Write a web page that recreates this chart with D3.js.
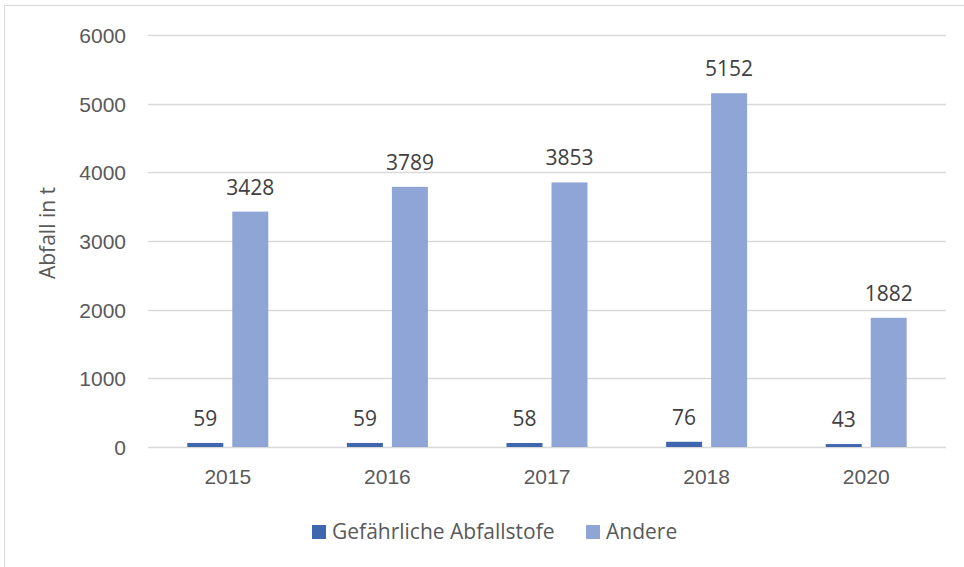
<!DOCTYPE html>
<html>
<head>
<meta charset="utf-8">
<script src="https://cdn.jsdelivr.net/npm/d3@7"></script>
<style>
    body { margin: 0; background: #fff; }
    svg { display: block; font-family: "Open Sans", "Noto Sans", sans-serif; }
    .axis text { fill: #595959; font-size: 21px; }
    .label { fill: #404040; font-size: 21px; }
</style>
</head>
<body>
<div id="chart"></div>
<script>
// Data
const years = ["2015", "2016", "2017", "2018", "2020"];
const seriesNames = ["Gefährliche Abfallstofe", "Andere"];
const hazardous = [59, 59, 58, 76, 43];
const other = [3428, 3789, 3853, 5152, 1882];
const yTicks = [0, 1000, 2000, 3000, 4000, 5000, 6000];

const colors = ["#4066b0", "#8fa5d5"];

const width = 964, height = 567;
const margin = { top: 35, right: 18, bottom: 120, left: 148 };

const svg = d3.select("#chart")
    .append("svg")
    .attr("width", width)
    .attr("height", height);

// outer chart frame (runs off the right and bottom edge)
svg.append("rect")
    .attr("x", 4.5)
    .attr("y", 5.5)
    .attr("width", width + 10)
    .attr("height", height + 10)
    .attr("fill", "none")
    .attr("stroke", "#d9d9d9")
    .attr("stroke-width", 1);

const plotW = width - margin.left - margin.right;
const plotH = height - margin.top - margin.bottom;

const g = svg.append("g")
    .attr("transform", `translate(${margin.left},${margin.top})`);

const x0 = d3.scaleBand()
    .domain(years)
    .range([0, plotW]);

const x1 = d3.scaleBand()
    .domain(seriesNames)
    .range([x0.bandwidth() / 2 - 40.5, x0.bandwidth() / 2 + 40.5])
    .paddingInner(0.2);

const y = d3.scaleLinear()
    .domain([0, 6000])
    .range([plotH, 0]);

// gridlines
g.selectAll(".grid")
    .data(yTicks)
    .enter()
    .append("line")
    .attr("class", "grid")
    .attr("x1", 0)
    .attr("x2", plotW)
    .attr("y1", d => Math.round(y(d)) + 0.5)
    .attr("y2", d => Math.round(y(d)) + 0.5)
    .attr("stroke", "#d9d9d9")
    .attr("stroke-width", 1.3);

// y axis labels
const yAxis = d3.axisLeft(y)
    .tickValues(yTicks)
    .tickFormat(d3.format("d"))
    .tickSize(0)
    .tickPadding(22);

g.append("g")
    .attr("class", "axis")
    .call(yAxis)
    .call(a => a.select(".domain").remove())
    .selectAll("text")
    .attr("dy", "0.35em");

// x axis labels
const xAxis = d3.axisBottom(x0)
    .tickSize(0)
    .tickPadding(22);

g.append("g")
    .attr("class", "axis")
    .attr("transform", `translate(0,${plotH})`)
    .call(xAxis)
    .call(a => a.select(".domain").remove());

// bars
const rows = years.map((yr, i) => ({ year: yr, values: [hazardous[i], other[i]] }));

const groups = g.selectAll(".year")
    .data(rows)
    .enter()
    .append("g")
    .attr("class", "year")
    .attr("transform", d => `translate(${x0(d.year)},0)`);

groups.selectAll("rect")
    .data(d => d.values.map((v, k) => ({ key: seriesNames[k], value: v, k: k })))
    .enter()
    .append("rect")
    .attr("x", d => x1(d.key))
    .attr("width", x1.bandwidth())
    .attr("y", d => y(d.value))
    .attr("height", d => plotH - y(d.value))
    .attr("fill", d => colors[d.k]);

// data labels
groups.selectAll(".label")
    .data(d => d.values.map((v, k) => ({ key: seriesNames[k], value: v })))
    .enter()
    .append("text")
    .attr("class", "label")
    .attr("x", d => x1(d.key) + x1.bandwidth() / 2)
    .attr("y", d => y(d.value) - 17)
    .attr("text-anchor", "middle")
    .text(d => d.value);

// y axis title
svg.append("text")
    .attr("class", "label")
    .attr("transform", "translate(55,233) rotate(-90)")
    .attr("text-anchor", "middle")
    .style("fill", "#595959")
    .text("Abfall in t");

// legend
const legendPos = [312, 586];
const legend = svg.selectAll(".legend-item")
    .data(seriesNames)
    .enter()
    .append("g")
    .attr("class", "legend-item")
    .attr("transform", (d, i) => `translate(${legendPos[i]},525)`);

legend.append("rect")
    .attr("width", 14)
    .attr("height", 14)
    .attr("fill", (d, i) => colors[i]);

legend.append("text")
    .attr("x", 20)
    .attr("y", 14)
    .style("fill", "#595959")
    .style("font-size", "21px")
    .text(d => d);
</script>
</body>
</html>
